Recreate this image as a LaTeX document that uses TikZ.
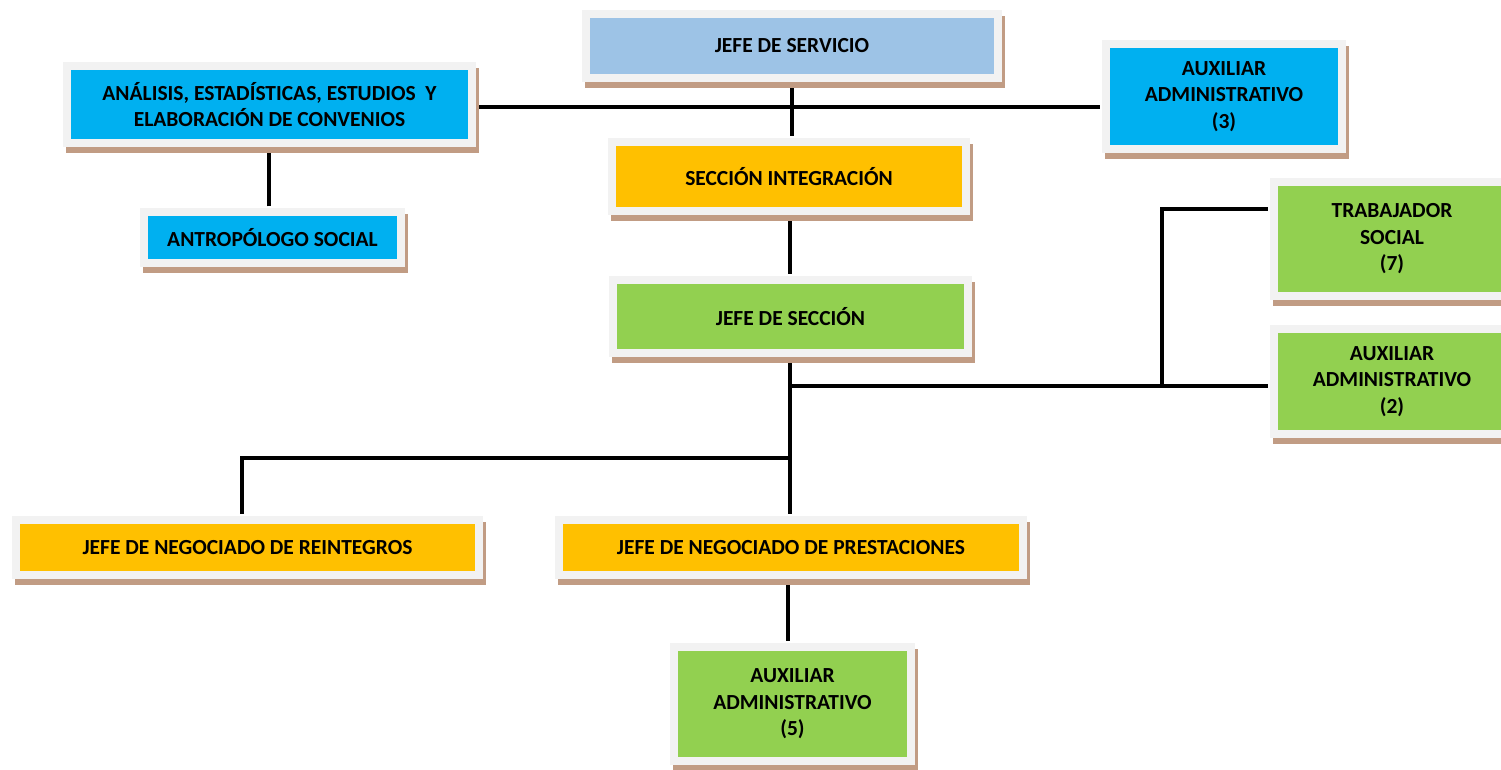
\documentclass[tikz,border=0pt]{standalone}
\usepackage{fontspec}
\setmainfont{Carlito}
\usetikzlibrary{shadows,backgrounds}
\definecolor{marco}{HTML}{F2F2F2}
\definecolor{sombra}{HTML}{C19C84}
\definecolor{celeste}{HTML}{9DC3E6}
\definecolor{cian}{HTML}{00B0F0}
\definecolor{oro}{HTML}{FFC000}
\definecolor{verde}{HTML}{92D050}

\begin{document}
\begin{tikzpicture}[x=1pt,y=-1pt,every path/.style={line width=3.5pt}]
  \tikzset{cargo/.style={rectangle,fill=marco,inner sep=0pt,align=center,
      font=\fontsize{21.5}{26.5}\selectfont\bfseries,
      general shadow={fill=sombra,shadow xshift=3pt,shadow yshift=-5.5pt},
      path picture={\fill[#1] ([xshift=8pt,yshift=-8pt]path picture bounding box.north west)
        rectangle ([xshift=-8pt,yshift=8pt]path picture bounding box.south east);}}}
  \useasboundingbox (0,0) rectangle (1501,769);
  \node[cargo=celeste,minimum width=420pt,minimum height=72pt] (servicio)    at (792,46)    {JEFE DE SERVICIO};
  \node[cargo=cian,minimum width=413pt,minimum height=85pt]    (analisis)    at (269.5,104.5) {ANÁLISIS, ESTADÍSTICAS, ESTUDIOS\ \ Y\\ELABORACIÓN DE CONVENIOS};
  \node[cargo=cian,minimum width=265pt,minimum height=59pt]    (antropologo) at (272.5,237.5) {ANTROPÓLOGO SOCIAL};
  \node[cargo=cian,minimum width=244pt,minimum height=113pt]   (aux3)        at (1224,96.5) {AUXILIAR\\ADMINISTRATIVO\\(3)};
  \node[cargo=oro,minimum width=362pt,minimum height=77pt]     (seccion)     at (789,176.5) {SECCIÓN INTEGRACIÓN};
  \node[cargo=verde,minimum width=363pt,minimum height=81pt]   (jseccion)    at (790.5,316.5) {JEFE DE SECCIÓN};
  \node[cargo=verde,minimum width=244pt,minimum height=122pt]  (trabajador)  at (1392,239)  {TRABAJADOR\\SOCIAL\\(7)};
  \node[cargo=verde,minimum width=244pt,minimum height=113pt]  (aux2)        at (1392,381.5) {AUXILIAR\\ADMINISTRATIVO\\(2)};
  \node[cargo=oro,minimum width=471pt,minimum height=63pt]     (reintegros)  at (247.5,547.5) {JEFE DE NEGOCIADO DE REINTEGROS};
  \node[cargo=oro,minimum width=472pt,minimum height=63pt]     (prestaciones) at (791,547.5) {JEFE DE NEGOCIADO DE PRESTACIONES};
  \node[cargo=verde,minimum width=245pt,minimum height=122pt]  (aux5)        at (792.5,704) {AUXILIAR\\ADMINISTRATIVO\\(5)};
  % puntos de union
  \coordinate (j1) at (792,107);
  \coordinate (j2) at (790,386);
  \coordinate (j3) at (1162,386);
  \coordinate (j4) at (1162,209);
  \coordinate (j5) at (790,458);
  \coordinate (j6) at (242,458);
  \begin{pgfonlayer}{background}
    \draw (servicio.south) -- (servicio.south |- seccion.north);
    \draw (analisis.east |- j1) -- (aux3.west |- j1);
    \draw (antropologo.north -| 269,0) -- (analisis.south -| 269,0);
    \draw (seccion.south -| j2) -- (jseccion.north -| j2);
    \draw (jseccion.south -| j2) -- (prestaciones.north -| j2);
    \draw (j2) -- (aux2.west |- j2);
    \draw (j3) -- (j4) -- (trabajador.west |- j4);
    \draw (j5) -- (j6) -- (reintegros.north -| j6);
    \draw (prestaciones.south -| 788,0) -- (aux5.north -| 788,0);
  \end{pgfonlayer}
\end{tikzpicture}
\end{document}
